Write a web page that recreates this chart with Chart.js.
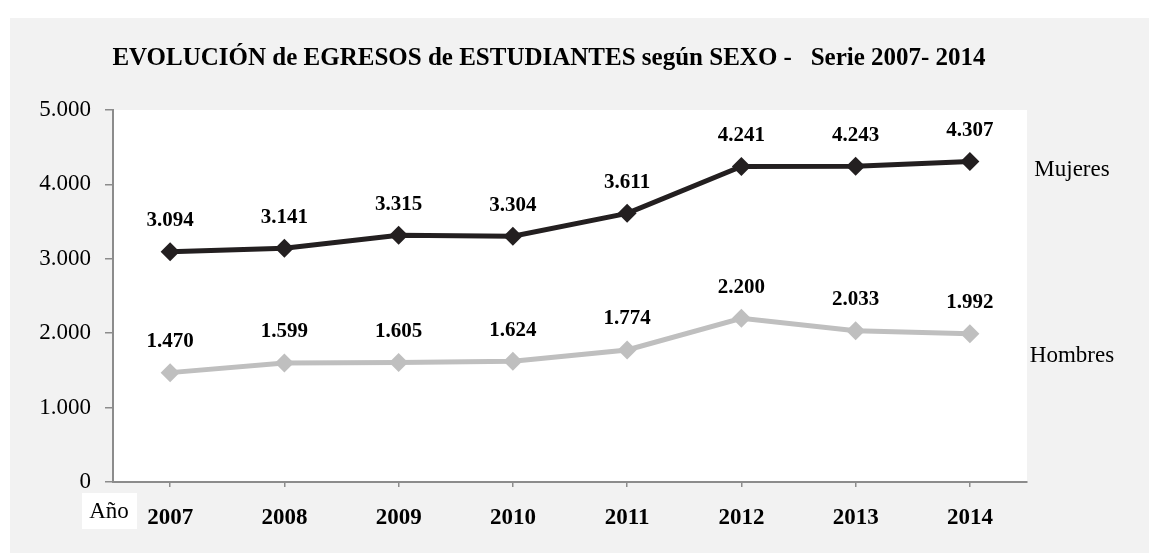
<!DOCTYPE html>
<html>
<head>
<meta charset="utf-8">
<script src="https://cdn.jsdelivr.net/npm/chart.js@4.4.1/dist/chart.umd.min.js"></script>
<style>
  html, body { margin: 0; padding: 0; background: #fff; }
  #panel { position: absolute; left: 10px; top: 18px; width: 1139px; height: 535px; background: #f2f2f2; }
</style>
</head>
<body>
<div id="panel"><canvas id="egresos" width="1139" height="535"></canvas></div>
<script>
// Datos de egresos por año
const anios = ['2007', '2008', '2009', '2010', '2011', '2012', '2013', '2014'];
const mujeres = [3094, 3141, 3315, 3304, 3611, 4241, 4243, 4307];
const hombres = [1470, 1599, 1605, 1624, 1774, 2200, 2033, 1992];
const yTicks = [0, 1000, 2000, 3000, 4000, 5000];
const titulo = 'EVOLUCIÓN de EGRESOS de ESTUDIANTES según SEXO -   Serie 2007- 2014';

const fuente = '"Liberation Serif", "Times New Roman", serif';

function miles(v) {
    return String(v).replace(/\B(?=(\d{3})+(?!\d))/g, '.');
}

// fondo blanco del area de trazado
const fondoPlugin = {
    id: 'fondo',
    beforeDraw(chart) {
        const a = chart.chartArea;
        const ctx = chart.ctx;
        ctx.save();
        ctx.fillStyle = '#ffffff';
        ctx.fillRect(a.left, a.top, a.right - a.left, a.bottom - a.top);
        ctx.restore();
    }
};

// titulo, etiquetas de valores, nombres de serie y "Año"
const textosPlugin = {
    id: 'textos',
    afterDatasetsDraw(chart) {
        const ctx = chart.ctx;
        const a = chart.chartArea;
        const yScale = chart.scales.y;
        ctx.save();
        ctx.fillStyle = '#000';
        ctx.textAlign = 'center';

        ctx.font = 'bold 25px ' + fuente;
        ctx.textBaseline = 'alphabetic';
        ctx.fillText(titulo, 539, 47);

        ctx.textBaseline = 'middle';
        ctx.font = 'bold 21px ' + fuente;
        chart.data.datasets.forEach((ds, i) => {
            const meta = chart.getDatasetMeta(i);
            meta.data.forEach((pt, j) => {
                ctx.fillText(miles(ds.data[j]), pt.x, pt.y - 31);
            });
        });

        ctx.font = '23px ' + fuente;
        chart.data.datasets.forEach((ds) => {
            const ultimo = ds.data[ds.data.length - 1];
            ctx.fillText(ds.label, a.right + 45, yScale.getPixelForValue(ultimo) + ds.nameOffset);
        });

        // caja de "Año"
        ctx.fillStyle = '#ffffff';
        ctx.fillRect(a.left - 31, a.bottom + 11, 55, 36);
        ctx.fillStyle = '#000';
        ctx.fillText('Año', a.left - 4, a.bottom + 30);
        ctx.restore();
    }
};

const ctx = document.getElementById('egresos').getContext('2d');

new Chart(ctx, {
    type: 'line',
    data: {
        labels: anios,
        datasets: [
            {
                label: 'Mujeres',
                data: mujeres,
                borderColor: '#231f20',
                backgroundColor: '#231f20',
                borderWidth: 5,
                pointStyle: 'rectRot',
                pointRadius: 9.5,
                pointBorderWidth: 0,
                tension: 0,
                nameOffset: 8
            },
            {
                label: 'Hombres',
                data: hombres,
                borderColor: '#bfbfbf',
                backgroundColor: '#bfbfbf',
                borderWidth: 5,
                pointStyle: 'rectRot',
                pointRadius: 9.5,
                pointBorderWidth: 0,
                tension: 0,
                nameOffset: 22
            }
        ]
    },
    options: {
        responsive: false,
        animation: false,
        layout: { padding: { top: 92, right: 122, left: 0, bottom: 0 } },
        plugins: {
            legend: { display: false },
            title: { display: false },
            tooltip: { enabled: false }
        },
        scales: {
            x: {
                offset: true,
                grid: { drawOnChartArea: false, tickLength: 5, color: '#8c8c8c', lineWidth: 1.5 },
                border: { color: '#8c8c8c', width: 2 },
                ticks: {
                    color: '#000',
                    padding: 17,
                    maxRotation: 0,
                    font: { family: fuente, size: 23, weight: 'bold' }
                },
                afterFit(scale) { scale.height = 71; }
            },
            y: {
                min: 0,
                max: 5000,
                afterBuildTicks(scale) { scale.ticks = yTicks.map(v => ({ value: v })); },
                grid: { drawOnChartArea: false, tickLength: 8, color: '#8c8c8c', lineWidth: 1.5 },
                border: { color: '#8c8c8c', width: 2 },
                ticks: {
                    color: '#000',
                    padding: 14,
                    font: { family: fuente, size: 23 },
                    callback: v => miles(v)
                },
                afterFit(scale) { scale.width = 103; }
            }
        }
    },
    plugins: [fondoPlugin, textosPlugin]
});
</script>
</body>
</html>
